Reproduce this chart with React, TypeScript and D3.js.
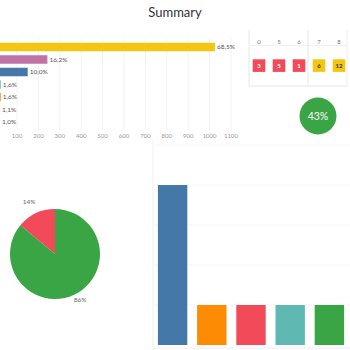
import React from "react";
import * as d3 from "d3";

const shareValues = [1025, 242, 150, 24, 24, 16, 15];
const shareLabels = ["68,5%", "16,2%", "10,0%", "1,6%", "1,6%", "1,1%", "1,0%"];
const shareColors = ["#f3c614", "#c173a5", "#4378a8", "#60b8b3", "#fd8b04", "#8c8c8c", "#8c8c8c"];
const shareTicks = [100, 200, 300, 400, 500, 600, 700, 800, 900, 1000, 1100];

const tableColumns = ["0", "5", "6", "7", "8"];
const tableValues = [3, 5, 1, 6, 12];
const tableColors = ["#f24a58", "#f24a58", "#f24a58", "#f3c614", "#f3c614"];

const kpiLabel = "43%";

const pieValues = [14, 86];
const pieLabels = ["14%", "86%"];
const pieColors = ["#f24a58", "#3aa545"];

const countValues = [4, 1, 1, 1, 1];
const countColors = ["#4378a8", "#fd8b04", "#f24a58", "#60b8b3", "#3aa545"];
const countTicks = [0, 1, 2, 3, 4, 5];

const FONT = "Lato, 'Open Sans', sans-serif";

export default function App() {
  // horizontal share bars
  const x = d3.scaleLinear().domain([0, 1100]).range([-4.4, 231]);
  const y = d3.scalePoint<number>().domain(d3.range(shareValues.length)).range([47, 122]);
  const barH = 8.5;

  // table columns
  const tx = d3.scalePoint<number>().domain(d3.range(tableColumns.length)).range([259, 339]);

  // pie: red slice ends at 12 o'clock
  const offset = -2 * Math.PI * (pieValues[0] / d3.sum(pieValues));
  const arcs = d3.pie<number>().sort(null).startAngle(offset).endAngle(2 * Math.PI + offset)(pieValues);
  const arc = d3.arc<d3.PieArcDatum<number>>().innerRadius(0).outerRadius(45);

  // vertical count bars
  const bx = d3.scaleBand<number>().domain(d3.range(countValues.length)).range([153, 349]).paddingInner(0.25).paddingOuter(0.125);
  const by = d3.scaleLinear().domain([0, 5]).range([345, 145]);

  return (
    <svg width={350} height={350} style={{ position: "fixed", left: 0, top: 0, background: "#fff" }} fontFamily={FONT}>
      <text x={175} y={17} textAnchor="middle" fontSize={13} fill="#333">Summary</text>

      {/* share bars */}
      {shareTicks.map((t) => (
        <g key={t}>
          <line x1={x(t)} x2={x(t)} y1={38} y2={130} stroke="#f2f2f2" />
          <text x={x(t)} y={138} textAnchor="middle" fontSize={6} fill="#999">{t}</text>
        </g>
      ))}
      {shareValues.map((v, i) => (
        <g key={i}>
          <rect x={x(0)} y={(y(i) as number) - barH / 2} width={x(v) - x(0)} height={barH} fill={shareColors[i]} />
          <text x={Math.max(x(v), 0) + 2} y={(y(i) as number) + 2.2} fontSize={6.5} fill="#555">{shareLabels[i]}</text>
        </g>
      ))}

      {/* table */}
      <line x1={249} x2={249} y1={30} y2={86} stroke="#e6e6e6" />
      <line x1={308} x2={308} y1={30} y2={86} stroke="#e6e6e6" />
      <line x1={347} x2={347} y1={30} y2={86} stroke="#eeeeee" />
      <line x1={249} x2={347} y1={45.5} y2={45.5} stroke="#f0f0f0" />
      <line x1={249} x2={347} y1={86} y2={86} stroke="#e6e6e6" />
      {tableColumns.map((c, i) => (
        <g key={c}>
          <text x={tx(i)} y={43.5} textAnchor="middle" fontSize={6} fill="#777">{c}</text>
          <rect x={(tx(i) as number) - 6.3} y={59.3} width={12.6} height={12.6} fill={tableColors[i]} />
          <text x={tx(i)} y={68} textAnchor="middle" fontSize={6} fontWeight="bold" fill={i < 3 ? "#fff" : "#333"}>{tableValues[i]}</text>
        </g>
      ))}

      {/* kpi */}
      <circle cx={318} cy={116} r={18.5} fill="#3aa545" />
      <text x={318} y={120} textAnchor="middle" fontSize={10.5} fill="#fff">{kpiLabel}</text>

      {/* pie */}
      <g transform="translate(55,254)">
        {arcs.map((a, i) => (
          <path key={i} d={arc(a) as string} fill={pieColors[i]} />
        ))}
      </g>
      <text x={29} y={204} textAnchor="middle" fontSize={6.5} fill="#666">{pieLabels[0]}</text>
      <text x={80} y={302} textAnchor="middle" fontSize={6.5} fill="#666">{pieLabels[1]}</text>

      {/* count bars */}
      <line x1={153} x2={153} y1={140} y2={350} stroke="#f0f0f0" />
      {countTicks.slice(1).map((t) => (
        <line key={t} x1={153} x2={350} y1={by(t)} y2={by(t)} stroke="#f7f7f7" />
      ))}
      <line x1={153} x2={350} y1={348} y2={348} stroke="#eeeeee" />
      {countValues.map((v, i) => (
        <rect key={i} x={bx(i)} y={by(v)} width={bx.bandwidth()} height={by(0) - by(v)} fill={countColors[i]} />
      ))}
    </svg>
  );
}
